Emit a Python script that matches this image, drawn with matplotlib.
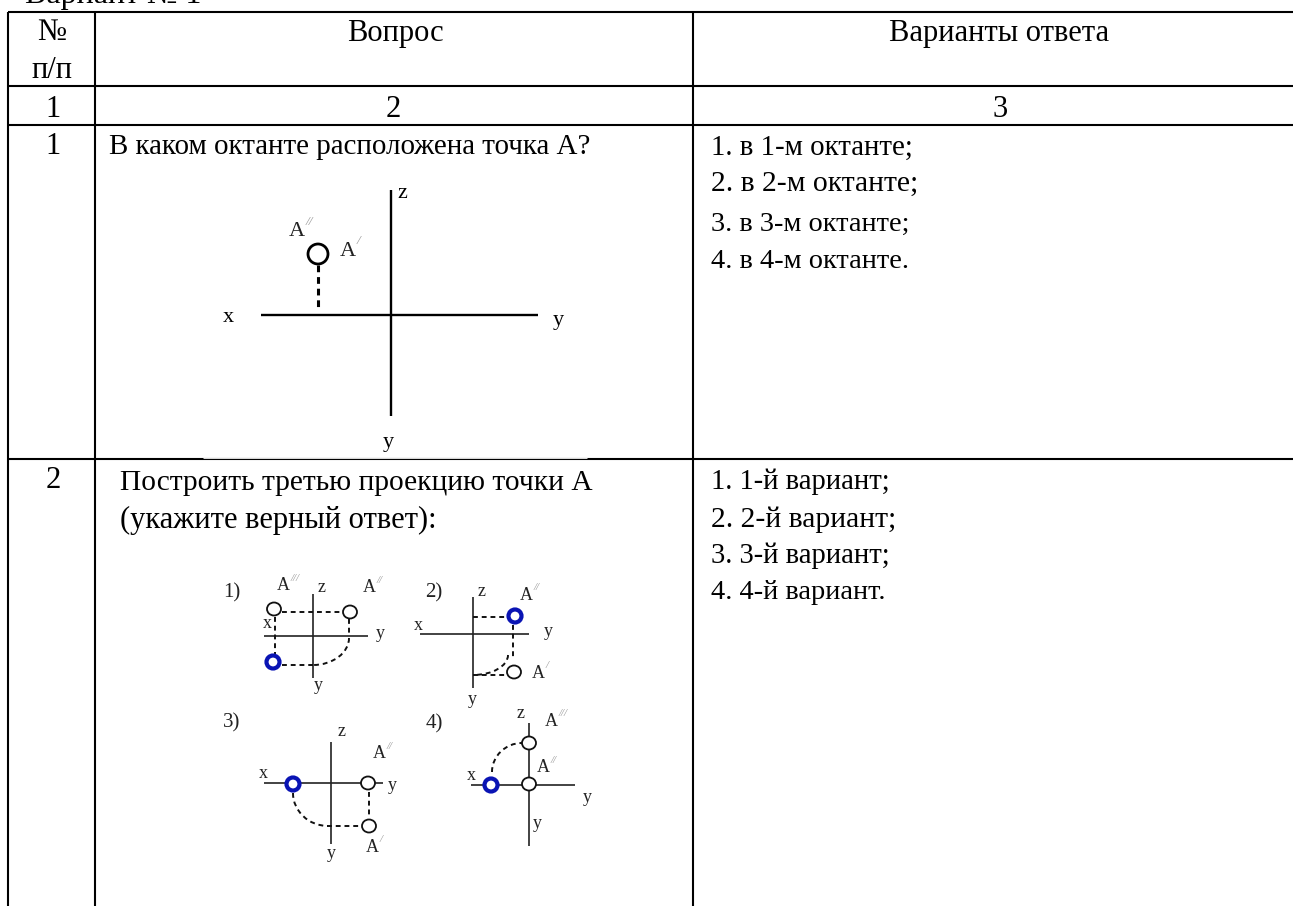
import matplotlib
matplotlib.use('Agg')
import matplotlib.pyplot as plt
from matplotlib.patches import Circle, Ellipse, PathPatch
from matplotlib.path import Path

plt.rcParams['font.family'] = ['Liberation Serif', 'DejaVu Sans']

# table text
title = "Вариант № 1"
headers = ["№", "Вопрос", "Варианты ответа"]
subheader = "п/п"
col_numbers = ["1", "2", "3"]
row_numbers = ["1", "2"]
question1 = "В каком октанте расположена точка А?"
question2 = ["Построить третью проекцию точки А", "(укажите верный ответ):"]
answers1 = ["1. в 1-м октанте;", "2. в 2-м октанте;", "3. в 3-м октанте;", "4. в 4-м октанте."]
answers2 = ["1. 1-й вариант;", "2. 2-й вариант;", "3. 3-й вариант;", "4. 4-й вариант."]

# table grid, in image pixels (no right border, the table runs off the page)
col_x = [8, 95, 693]
row_y = [12, 86, 125, 459]
right_x = 1293
bottom_y = 906

# per line baselines and sizes: the source text is set tight, so sizes follow line widths
answers1_y = [155, 191, 231, 268]
answers1_fs = [20.8, 21.3, 20.4, 20.4]
answers2_y = [489, 527, 563, 599]
answers2_fs = [20.6, 21.3, 20.6, 20.4]
question2_y = [490, 528]
question2_fs = [21.2, 22]

# large diagram
big_axes = [[(261, 315), (538, 315)], [(391, 190), (391, 416)]]
big_dashes = [[(318, 265), (318, 308)]]
big_circle = (318, 254)
big_labels = [("x", 228, 317), ("y", 558, 320), ("y", 388, 443), ("z", 402, 193)]
big_primes = [("A", 297, 232, "//"), ("A", 348, 251, "/")]

# small diagrams: axes, dashed lines, curves (start, corner, end), circles, blue circle
small = [
    dict(axes=[[(264, 636), (368, 636)], [(313, 594), (313, 678)]],
         dashes=[[(282, 612), (342, 612)], [(275, 617), (275, 654)], [(349, 619), (349, 636)], [(282, 665), (313, 665)]],
         curves=[[(349, 638), (349, 665), (313, 665)]],
         circles=[(274, 609), (350, 612)], blue=(273, 662)),
    dict(axes=[[(420, 634), (529, 634)], [(473, 597), (473, 688)]],
         dashes=[[(473, 617), (506, 617)], [(513, 625), (513, 660)], [(473, 675), (506, 675)]],
         curves=[[(508, 655), (508, 675), (473, 675)]],
         circles=[(514, 672)], blue=(515, 616)),
    dict(axes=[[(264, 783), (383, 783)], [(331, 742), (331, 844)]],
         dashes=[[(369, 792), (369, 817)], [(327, 826), (362, 826)]],
         curves=[[(293, 793), (293, 826), (328, 826)]],
         circles=[(368, 783), (369, 826)], blue=(293, 784)),
    dict(axes=[[(471, 785), (575, 785)], [(529, 723), (529, 846)]],
         dashes=[],
         curves=[[(492, 772), (492, 743), (522, 743)]],
         circles=[(529, 743), (529, 784)], blue=(491, 785)),
]
small_labels = [
    ("z", 322, 587), ("x", 267, 623), ("y", 380, 634), ("y", 318, 685),
    ("z", 482, 592), ("x", 418, 626), ("y", 548, 632), ("y", 472, 700),
    ("z", 342, 732), ("x", 263, 773), ("y", 392, 786), ("y", 331, 854),
    ("z", 521, 714), ("x", 471, 775), ("y", 587, 797), ("y", 537, 824),
]
panel_numbers = [("1)", 232, 593), ("2)", 434, 593), ("3)", 232, 723), ("4)", 434, 724)]
small_primes = [
    ("A", 283, 586, "///"), ("A", 369, 588, "//"), ("A", 526, 595, "//"), ("A", 538, 673, "/"),
    ("A", 379, 754, "//"), ("A", 372, 847, "/"), ("A", 551, 721, "///"), ("A", 543, 768, "//"),
]

FS = 22
K = 0.55


def curve(ax, pts, lw):
    p0, c, p1 = pts
    a = (p0[0] + K * (c[0] - p0[0]), p0[1] + K * (c[1] - p0[1]))
    b = (p1[0] + K * (c[0] - p1[0]), p1[1] + K * (c[1] - p1[1]))
    path = Path([p0, a, b, p1], [Path.MOVETO, Path.CURVE4, Path.CURVE4, Path.CURVE4])
    ax.add_patch(PathPatch(path, fill=False, ec='#111111', lw=lw, ls=(0, (2.5, 2))))


def lbl(ax, s, x, y, size, color='black'):
    ax.text(x, y, s, fontsize=size, color=color, ha='center', va='center')


def primed(ax, s, x, y, mark, size):
    lbl(ax, s, x, y, size, '#222222')
    ax.text(x + size * 0.55, y - size * 0.6, mark, fontsize=size * 0.6, color='#999999',
            ha='left', va='center', style='italic')


fig = plt.figure(figsize=(12.93, 9.06), dpi=100)
ax = fig.add_axes([0, 0, 1, 1])
ax.set_xlim(0, 1293)
ax.set_ylim(906, 0)
ax.axis('off')

# grid
for x in col_x:
    ax.plot([x, x], [row_y[0], bottom_y], color='black', lw=1.5, solid_capstyle='butt')
for y in row_y:
    ax.plot([col_x[0], right_x], [y, y], color='black', lw=1.5, solid_capstyle='butt')
# the pasted drawing covers part of the row line
ax.plot([203, 587], [458.4, 458.4], color='white', lw=0.6, solid_capstyle='butt')

# text
ax.text(25, 3, title, fontsize=23, ha='left', va='baseline')
ax.text(52, 40, headers[0], fontsize=FS, ha='center', va='baseline')
ax.text(52, 78, subheader, fontsize=FS, ha='center', va='baseline')
ax.text(395, 41, headers[1], fontsize=FS, ha='center', va='baseline')
ax.text(999, 41, headers[2], fontsize=FS, ha='center', va='baseline')
for s, x in zip(col_numbers, [53, 393, 1000]):
    ax.text(x, 117, s, fontsize=FS, ha='center', va='baseline')
ax.text(53, 154, row_numbers[0], fontsize=FS, ha='center', va='baseline')
ax.text(53, 488, row_numbers[1], fontsize=FS, ha='center', va='baseline')
ax.text(109, 154, question1, fontsize=20.9, ha='left', va='baseline')
for s, y, fs in zip(question2, question2_y, question2_fs):
    ax.text(120, y, s, fontsize=fs, ha='left', va='baseline')
for s, y, fs in zip(answers1, answers1_y, answers1_fs):
    ax.text(711, y, s, fontsize=fs, ha='left', va='baseline')
for s, y, fs in zip(answers2, answers2_y, answers2_fs):
    ax.text(711, y, s, fontsize=fs, ha='left', va='baseline')

# large diagram
for seg in big_axes:
    ax.plot(*zip(*seg), color='black', lw=1.7, solid_capstyle='butt')
for seg in big_dashes:
    ax.plot(*zip(*seg), color='black', lw=2.2, ls=(0, (2.2, 1.6)))
ax.add_patch(Circle(big_circle, 10, fc='white', ec='black', lw=2))
for s, x, y in big_labels:
    lbl(ax, s, x, y, 16)
for s, x, y, m in big_primes:
    primed(ax, s, x, y, m, 16)

# small diagrams
for d in small:
    for seg in d['axes']:
        ax.plot(*zip(*seg), color='#222222', lw=1.2, solid_capstyle='butt')
    for seg in d['dashes']:
        ax.plot(*zip(*seg), color='#111111', lw=1.4, ls=(0, (2.5, 2)))
    for pts in d['curves']:
        curve(ax, pts, 1.4)
    for c in d['circles']:
        ax.add_patch(Ellipse(c, 14, 13, fc='white', ec='#111111', lw=1.3, zorder=3))
    ax.add_patch(Circle(d['blue'], 6.5, fc='white', ec='#0a14b4', lw=3, zorder=3))
for s, x, y in small_labels:
    lbl(ax, s, x, y, 13, '#222222')
for s, x, y in panel_numbers:
    lbl(ax, s, x, y, 15, '#222222')
for s, x, y, m in small_primes:
    primed(ax, s, x, y, m, 13)

fig.savefig('out.png', dpi=100)
